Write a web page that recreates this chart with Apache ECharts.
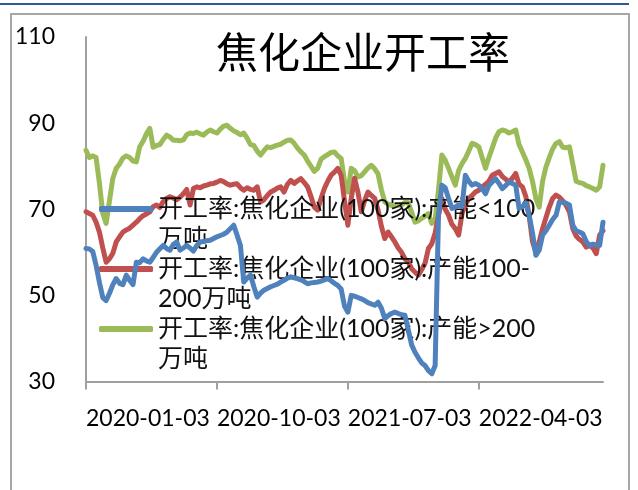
<!DOCTYPE html>
<html>
<head>
<meta charset="utf-8">
<script src="https://cdn.jsdelivr.net/npm/echarts@6/dist/echarts.min.js"></script>
<style>
html,body{margin:0;padding:0;background:#fff;}
#chart{width:638px;height:490px;}
</style>
</head>
<body>
<div id="chart"></div>
<script>
var titleText = '焦化企业开工率';
var seriesNames = [
  '开工率:焦化企业(100家):产能<100万吨',
  '开工率:焦化企业(100家):产能100-200万吨',
  '开工率:焦化企业(100家):产能>200万吨'
];
var legendLines = [
  ['开工率:焦化企业(100家):产能<100', '万吨'],
  ['开工率:焦化企业(100家):产能100-', '200万吨'],
  ['开工率:焦化企业(100家):产能>200', '万吨']
];
var tickLabels = ['2020-01-03', '2020-10-03', '2021-07-03', '2022-04-03'];
var tickIndex = [0, 39, 78, 117];
var yTicks = [30, 50, 70, 90, 110];

var small = [
  60.9,60.8,60.2,57.0,53.0,49.5,48.8,50.5,52.5,53.9,
  52.8,52.5,54.7,53.5,52.5,57.7,57.6,58.5,58.0,57.7,
  58.8,60.0,60.8,61.6,60.9,60.5,61.8,62.4,60.5,61.0,
  61.6,61.0,60.3,61.6,62.4,62.5,62.7,62.8,63.2,63.6,
  63.9,64.2,64.7,65.5,66.3,64.0,61.6,53.1,54.0,54.7,
  52.0,49.6,50.5,51.2,51.6,52.0,52.3,52.6,53.1,53.5,
  54.0,54.3,54.1,53.9,53.6,53.2,52.7,52.9,53.0,53.1,
  53.3,53.6,53.9,53.4,52.8,52.3,51.5,47.5,46.1,50.0,
  49.8,49.5,49.2,48.8,48.3,48.0,47.7,48.4,47.0,44.6,
  45.3,45.8,46.1,45.8,45.5,45.4,42.0,38.5,36.8,35.5,
  34.3,33.7,32.5,31.8,33.7,68.6,75.6,75.0,72.5,70.2,
  70.5,71.0,70.6,77.9,76.5,75.6,76.0,75.6,74.8,73.6,
  75.5,76.3,77.1,76.0,74.8,75.5,76.3,76.0,75.6,70.2,
  70.6,71.5,68.6,64.5,59.3,60.5,64.0,65.0,66.3,67.6,
  68.6,71.7,71.6,71.4,71.0,66.3,65.0,64.7,64.3,62.5,
  61.6,61.9,61.7,61.6,67.0
];
var medium = [
  69.4,69.0,68.6,67.0,64.7,61.0,57.7,58.5,59.8,62.4,
  63.6,64.7,65.2,65.6,66.3,67.0,67.8,68.5,68.9,69.4,
  70.6,71.0,70.4,71.8,72.5,72.9,72.6,72.2,72.8,73.6,
  74.6,71.0,74.8,75.2,75.0,75.4,75.6,75.9,76.0,76.3,
  76.7,76.4,75.9,75.6,75.8,75.9,75.0,74.4,75.0,74.6,
  74.4,75.2,71.7,72.2,73.2,74.0,74.4,74.9,75.2,74.0,
  75.8,76.7,76.0,76.6,77.1,76.2,75.2,73.0,70.5,69.8,
  72.5,74.8,76.5,77.9,78.6,79.5,77.9,72.0,66.3,72.5,
  77.2,74.0,69.4,72.0,74.0,73.2,72.5,69.8,66.0,63.2,
  64.7,63.6,62.4,61.0,60.0,58.5,57.7,56.2,55.4,54.7,
  56.0,57.5,60.9,62.0,64.5,68.6,72.5,70.0,68.6,66.5,
  65.5,64.0,69.0,71.0,72.5,73.2,74.0,74.4,75.2,75.8,
  76.5,77.9,78.3,78.7,77.6,77.0,76.3,77.2,78.3,75.8,
  75.2,73.0,68.5,62.5,60.0,62.5,65.5,68.0,70.5,72.5,
  73.3,72.8,72.0,70.9,69.4,65.5,63.8,63.0,62.4,61.2,
  61.6,61.0,59.7,64.0,65.0
];
var large = [
  83.7,82.0,82.4,82.0,76.0,69.0,66.7,72.0,77.2,79.5,
  80.5,81.9,82.4,82.0,81.2,81.0,84.5,85.8,87.5,88.8,
  84.4,84.8,85.0,86.2,87.2,86.8,86.0,86.0,85.9,86.1,
  87.3,87.7,87.6,87.9,87.5,87.2,87.9,88.4,88.0,87.7,
  88.6,89.3,89.5,88.8,88.2,87.8,87.3,87.7,86.5,85.0,
  84.8,83.5,82.6,83.6,84.5,84.3,84.6,84.9,85.1,85.6,
  86.0,86.1,85.3,84.2,83.3,82.6,81.2,80.0,78.8,79.5,
  81.6,82.2,82.7,83.2,83.3,82.4,81.8,76.5,74.0,79.5,
  79.0,77.5,77.8,78.7,79.6,80.2,79.4,78.2,74.5,71.7,
  71.2,70.9,70.8,70.9,71.0,71.6,71.5,69.3,67.0,67.3,
  67.9,68.4,69.0,66.7,67.6,74.5,82.6,81.4,79.5,77.5,
  75.6,79.0,80.6,81.8,83.5,85.3,85.0,84.5,82.0,79.5,
  82.0,84.2,86.5,88.0,88.4,88.2,87.7,88.0,88.4,85.0,
  83.3,81.5,79.5,76.5,72.5,70.5,76.5,79.8,82.0,84.0,
  85.3,85.7,84.4,84.3,84.5,80.5,76.5,76.2,76.0,75.5,
  75.2,74.8,74.4,75.2,80.2
];
var seriesValues = [small, medium, large];
var colors = ['#4F81BD', '#C0504D', '#9BBB59'];

function pairs(arr) {
  return arr.map(function (v, i) { return [i, v]; });
}

var chart = echarts.init(document.getElementById('chart'), null, {renderer: 'canvas'});
var lastIndex = small.length - 1;

var option = {
  backgroundColor: '#fff',
  animation: false,
  title: {
    text: titleText,
    left: 216,
    top: 31,
    padding: 0,
    textStyle: {
      fontFamily: '"Noto Sans CJK SC"',
      fontSize: 42,
      fontWeight: 'normal',
      color: '#000'
    }
  },
  legend: {
    orient: 'vertical',
    left: 99,
    top: 164,
    padding: 0,
    itemGap: -30,
    itemWidth: 54,
    itemHeight: 6,
    icon: 'roundRect',
    selectedMode: false,
    data: seriesNames,
    formatter: function (name) {
      var k = seriesNames.indexOf(name);
      return '\n' + legendLines[k][0] + '\n' + legendLines[k][1];
    },
    textStyle: {
      fontFamily: 'Lato, "Noto Sans CJK SC"',
      fontSize: 25,
      lineHeight: 30,
      color: '#111'
    }
  },
  grid: {
    left: 86,
    right: 35,
    top: 37,
    bottom: 108.5,
    containLabel: false
  },
  xAxis: {
    type: 'value',
    min: 0,
    max: lastIndex,
    splitLine: {show: false},
    axisLine: {show: true, lineStyle: {color: '#A0A0A0', width: 2}},
    axisTick: {
      show: true,
      length: 8,
      customValues: tickIndex,
      lineStyle: {color: '#A0A0A0', width: 2}
    },
    axisLabel: {
      customValues: tickIndex,
      formatter: function (v) {
        var k = tickIndex.indexOf(Math.round(v));
        return k >= 0 ? tickLabels[k] : '';
      },
      align: 'left',
      margin: 26,
      fontFamily: 'Lato',
      fontSize: 23,
      color: '#000'
    }
  },
  yAxis: {
    type: 'value',
    min: 30,
    max: 110,
    interval: 20,
    splitLine: {show: false},
    axisLine: {show: true, lineStyle: {color: '#A0A0A0', width: 2}},
    axisTick: {show: false},
    axisLabel: {
      margin: 31,
      fontFamily: 'Lato',
      fontSize: 23,
      color: '#000'
    }
  },
  graphic: [
    {
      type: 'rect',
      silent: true,
      shape: {x: 11, y: 14, width: 618, height: 500},
      style: {fill: 'none', stroke: '#A6A6A6', lineWidth: 2}
    },
    {
      type: 'line',
      silent: true,
      shape: {x1: 0, y1: 4, x2: 629, y2: 4},
      style: {stroke: '#2E5A9A', lineWidth: 2}
    }
  ],
  series: seriesNames.map(function (name, k) {
    return {
      name: name,
      type: 'line',
      data: pairs(seriesValues[k]),
      symbol: 'none',
      smooth: false,
      color: colors[k],
      lineStyle: {width: 5, color: colors[k], cap: 'round', join: 'round'},
      z: 2 + (2 - k)
    };
  })
};
chart.setOption(option);
</script>
</body>
</html>
